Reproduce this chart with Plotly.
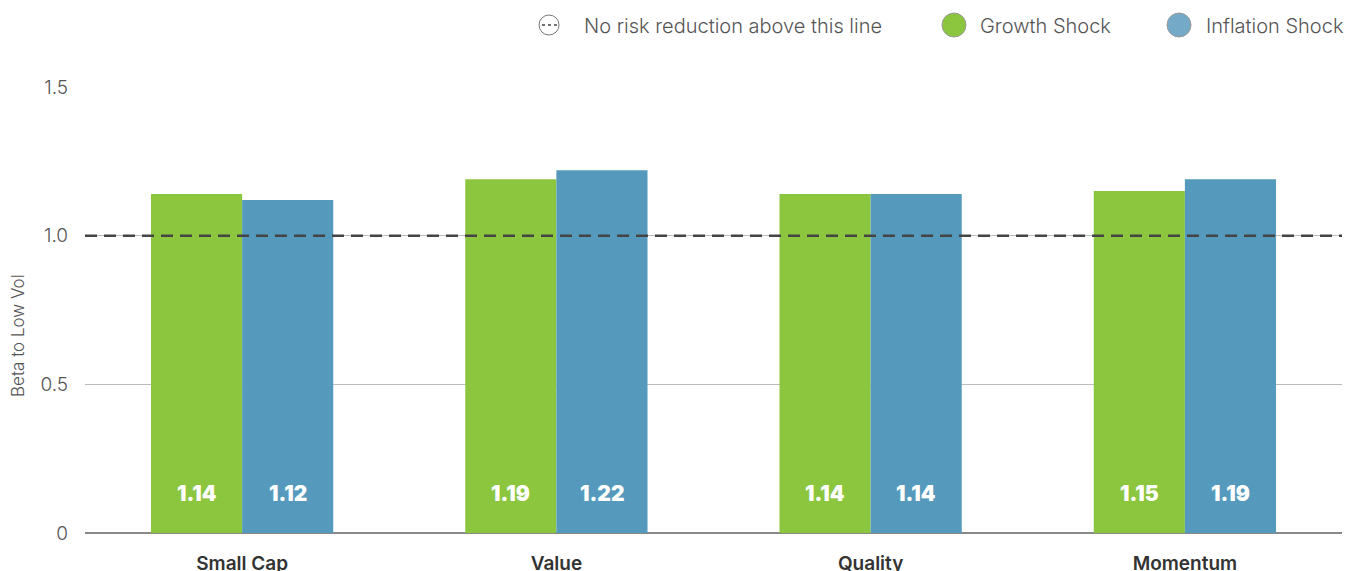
import plotly.graph_objects as go

categories = ["Small Cap", "Value", "Quality", "Momentum"]
growth = [1.14, 1.19, 1.14, 1.15]
inflation = [1.12, 1.22, 1.14, 1.19]
ytick_vals = [0, 0.5, 1.0, 1.5]
ytick_text = ["0", "0.5", "1.0", "1.5"]
threshold = 1.0
legend_names = ["No risk reduction above this line", "Growth Shock", "Inflation Shock"]

GREEN = "#8CC63F"
BLUE = "#559ABD"
BLUE_LEG = "#74A9C8"
BARGAP = 0.42
FONT = "Inter"

W, H = 1354, 571
ML, MR, MT, MB = 85, 12, 87, 38
PW, PH = W - ML - MR, H - MT - MB


def px_x(p):
    return (p - ML) / PW


def px_y(p):
    return (H - MB - p) / PH


fig = go.Figure()
fig.add_trace(go.Bar(x=categories, y=growth, name="Growth Shock", marker_color=GREEN,
                     marker_line_width=0, showlegend=False))
fig.add_trace(go.Bar(x=categories, y=inflation, name="Inflation Shock", marker_color=BLUE,
                     marker_line_width=0, showlegend=False))

# legend entries (symbols drawn as shapes below so they can be larger than plotly's cap)
for k, nm in enumerate(legend_names):
    fig.add_trace(go.Scatter(x=[None], y=[None], mode="markers", name=nm,
                             marker=dict(size=1, color="rgba(0,0,0,0)"),
                             legend="legend" if k == 0 else f"legend{k+1}"))

fig.add_shape(type="line", xref="paper", x0=0, x1=1, yref="y", y0=threshold, y1=threshold,
              line=dict(color="#444444", width=2.5, dash="12px,7px"), layer="above")

# legend symbols
LY = px_y(25)
sym = [(549, None, 10), (954, GREEN, 12), (1179, BLUE_LEG, 12)]
for cx, col, r in sym:
    fig.add_shape(type="circle", xref="paper", yref="paper", xsizemode="pixel", ysizemode="pixel",
                  xanchor=px_x(cx), yanchor=LY, x0=-r, x1=r, y0=-r, y1=r,
                  fillcolor=col if col else "white",
                  line=dict(color="#777777" if col is None else "#9a9a9a", width=1))
fig.add_shape(type="line", xref="paper", yref="paper", xsizemode="pixel", ysizemode="pixel",
              xanchor=px_x(549), yanchor=LY, x0=-7, x1=8, y0=0, y1=0,
              line=dict(color="#444444", width=1.5, dash="3px,3px"))

off = (1 - BARGAP) / 4
font_lbl = dict(family=FONT, size=21, color="white", weight=900)
for i, c in enumerate(categories):
    for val, dx in ((growth[i], -off), (inflation[i], off)):
        fig.add_annotation(x=i + dx, y=0, yref="y", text=f"{val:.2f}", showarrow=False,
                           yanchor="middle", yshift=40, font=font_lbl)

fig.add_annotation(xref="paper", yref="paper", x=px_x(18), y=px_y(336), text="Beta to Low Vol",
                   textangle=-90, showarrow=False, xanchor="center", yanchor="middle",
                   font=dict(size=17, color="#555555", family=FONT, weight=300))

leg_common = dict(orientation="h", y=LY, yanchor="middle", xanchor="left",
                  font=dict(size=20, color="#555555", family=FONT, weight=300),
                  bgcolor="rgba(0,0,0,0)")

fig.update_layout(
    width=W, height=H,
    margin=dict(l=ML, r=MR, t=MT, b=MB, autoexpand=False),
    paper_bgcolor="white", plot_bgcolor="white",
    barmode="group", bargap=BARGAP, bargroupgap=0,
    font=dict(family=FONT, color="#555555"),
    legend=dict(x=px_x(544), **leg_common),
    legend2=dict(x=px_x(940), **leg_common),
    legend3=dict(x=px_x(1166), **leg_common),
    xaxis=dict(showgrid=False, showline=False, zeroline=False, ticks="", automargin=False,
               tickfont=dict(size=19, color="#333333", family=FONT, weight=600),
               ticklabelstandoff=17),
    yaxis=dict(range=[0, 1.5], tickvals=ytick_vals, ticktext=ytick_text, automargin=False,
               showgrid=True, gridcolor="#BBBBBB", gridwidth=1,
               zeroline=True, zerolinecolor="#888888", zerolinewidth=2,
               showline=False, tickfont=dict(size=19, color="#555555", family=FONT, weight=300),
               ticklabelstandoff=16),
)

fig.write_html("out.html")
